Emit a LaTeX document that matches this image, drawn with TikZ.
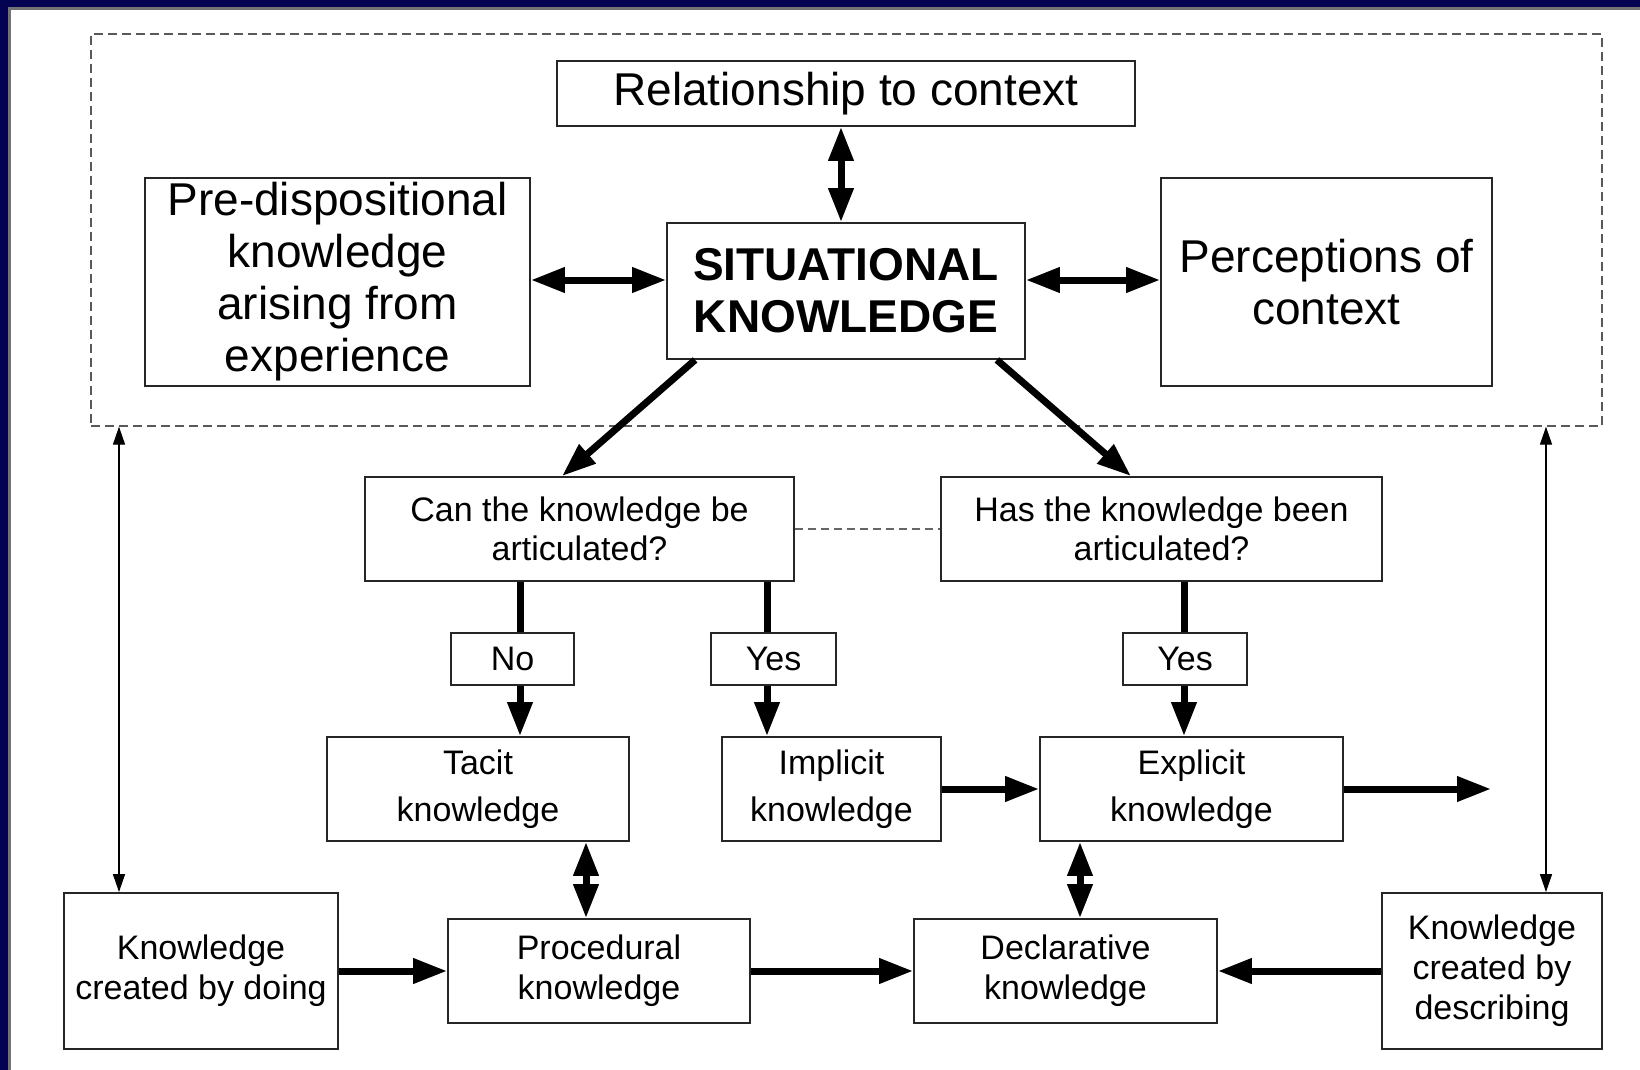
\documentclass[tikz,border=0pt]{standalone}
\usepackage{fontspec}
\setmainfont{Liberation Sans}
\usetikzlibrary{arrows.meta}
\definecolor{frame_navy}{RGB}{3,3,82}

\begin{document}
\begin{tikzpicture}
    [
        x=0.5pt, y=-0.5pt,
        box_node/.style={rectangle, draw=black!85, fill=white, line width=0.9pt, inner sep=0pt, align=center},
        big_node/.style={box_node, font=\fontsize{23}{26}\selectfont},
        mid_node/.style={box_node, font=\fontsize{17}{19.5}\selectfont},
        kind_node/.style={box_node, font=\fontsize{17}{23.5}\selectfont},
        low_node/.style={box_node, font=\fontsize{17}{20}\selectfont},
        frame_node/.style={rectangle, draw=black!65, dashed, dash pattern=on 4.5pt off 2.5pt, line width=0.65pt, inner sep=0pt},
        fat_line/.style={line width=3.5pt},
        fat_arrow/.style={line width=3.5pt, -{Triangle[length=17pt, width=12pt]}},
        fat_double/.style={line width=3.5pt, {Triangle[length=17pt, width=12pt]}-{Triangle[length=17pt, width=12pt]}},
        thin_double/.style={line width=0.65pt, {Triangle[length=9pt, width=6pt]}-{Triangle[length=9pt, width=6pt]}},
        gray_dash/.style={draw=black!60, dash pattern=on 4pt off 2.5pt, line width=0.65pt},
    ]
        \useasboundingbox (0,0) rectangle (1640,1070) ;
        \fill[frame_navy] (0,0) rectangle (1640,1070) ;
        \filldraw[fill=white, draw=black!55, line width=1.5pt] (9.5,8.5) rectangle (1650,1080) ;

        \node[frame_node, minimum width=755.5pt, minimum height=196pt] (ctx) at (846.5,230) {} ;
        \node[big_node, minimum width=289pt, minimum height=32.5pt] (rel) at (846,93.5) {Relationship to context} ;
        \node[big_node, minimum width=179pt, minimum height=68pt, font=\fontsize{23}{26}\selectfont\bfseries] (sit) at (846,291) {SITUATIONAL\\KNOWLEDGE} ;
        \node[big_node, minimum width=192.5pt, minimum height=104pt] (pre) at (337.5,282) {Pre-dispositional\\knowledge\\arising from\\experience} ;
        \node[big_node, minimum width=165.5pt, minimum height=104pt] (perc) at (1326.5,282) {Perceptions of\\context} ;

        \node[mid_node, minimum width=214.5pt, minimum height=52pt] (can) at (579.5,529) {Can the knowledge be\\articulated?} ;
        \node[mid_node, minimum width=220.5pt, minimum height=52pt] (has) at (1161.5,529) {Has the knowledge been\\articulated?} ;
        \node[mid_node, minimum width=61.5pt, minimum height=26pt] (no) at (512.5,659) {No} ;
        \node[mid_node, minimum width=62.5pt, minimum height=26pt] (yes_a) at (773.5,659) {Yes} ;
        \node[mid_node, minimum width=62pt, minimum height=26pt] (yes_b) at (1185,659) {Yes} ;

        \node[kind_node, minimum width=151pt, minimum height=52pt] (tacit) at (478,789) {Tacit\\knowledge} ;
        \node[kind_node, minimum width=109.5pt, minimum height=52pt] (impl) at (831.5,789) {Implicit\\knowledge} ;
        \node[kind_node, minimum width=151.5pt, minimum height=52pt] (expl) at (1191.5,789) {Explicit\\knowledge} ;

        \node[low_node, minimum width=137pt, minimum height=78pt] (doing) at (201,971) {Knowledge\\created by doing} ;
        \node[low_node, minimum width=151pt, minimum height=52pt] (proc) at (599,971) {Procedural\\knowledge} ;
        \node[low_node, minimum width=151.5pt, minimum height=52pt] (decl) at (1065.5,971) {Declarative\\knowledge} ;
        \node[low_node, minimum width=110pt, minimum height=78pt] (desc) at (1492,971) {Knowledge\\created by\\describing} ;

        \coordinate (lane_rel) at (841,0) ;
        \coordinate (lane_side) at (0,280) ;
        \coordinate (lane_no) at (520,0) ;
        \coordinate (lane_yes_a) at (767,0) ;
        \coordinate (lane_yes_b) at (1184,0) ;
        \coordinate (lane_proc) at (586,0) ;
        \coordinate (lane_decl) at (1080,0) ;
        \coordinate (lane_left) at (119,0) ;
        \coordinate (lane_right) at (1546,0) ;
        \coordinate (out) at (1491,789) ;

        \draw[fat_double] (rel.south -| lane_rel) -- (sit.north -| lane_rel) ;
        \draw[fat_double] (pre.east |- lane_side) -- (sit.west |- lane_side) ;
        \draw[fat_double] (sit.east |- lane_side) -- (perc.west |- lane_side) ;
        \draw[fat_arrow] ([xshift=14.5pt]sit.south west) -- ([xshift=-8.75pt]can.north) ;
        \draw[fat_arrow] ([xshift=-14.5pt]sit.south east) -- ([xshift=-15.25pt]has.north) ;
        \draw[gray_dash] (can.east) -- (has.west) ;

        \draw[fat_line] (can.south -| lane_no) -- (no.north -| lane_no) ;
        \draw[fat_arrow] (no.south -| lane_no) -- (tacit.north -| lane_no) ;
        \draw[fat_line] (can.south -| lane_yes_a) -- (yes_a.north -| lane_yes_a) ;
        \draw[fat_arrow] (yes_a.south -| lane_yes_a) -- (impl.north -| lane_yes_a) ;
        \draw[fat_line] (has.south -| lane_yes_b) -- (yes_b.north -| lane_yes_b) ;
        \draw[fat_arrow] (yes_b.south -| lane_yes_b) -- (expl.north -| lane_yes_b) ;

        \draw[fat_arrow] (impl.east) -- (expl.west) ;
        \draw[fat_arrow] (expl.east) -- (out) ;
        \draw[fat_double] (tacit.south -| lane_proc) -- (proc.north -| lane_proc) ;
        \draw[fat_double] (expl.south -| lane_decl) -- (decl.north -| lane_decl) ;

        \draw[fat_arrow] (doing.east) -- (proc.west) ;
        \draw[fat_arrow] (proc.east) -- (decl.west) ;
        \draw[fat_arrow] (desc.west) -- (decl.east) ;

        \draw[thin_double] (ctx.south -| lane_left) -- (doing.north -| lane_left) ;
        \draw[thin_double] (ctx.south -| lane_right) -- (desc.north -| lane_right) ;
    \end{tikzpicture}
\end{document}
